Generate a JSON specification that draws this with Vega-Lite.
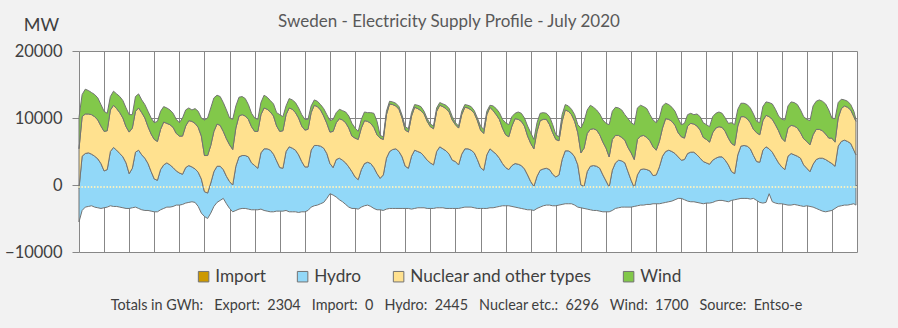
{
  "$schema": "https://vega.github.io/schema/vega-lite/v6.json",
  "width": 778,
  "height": 201,
  "autosize": {"type": "none"},
  "padding": {"left": 79, "top": 51, "right": 41, "bottom": 76},
  "background": "#f2f2f2",
  "title": {"text": "Sweden - Electricity Supply Profile - July 2020", "fontSize": 17, "font": "Lato", "color": "#595959", "fontWeight": "normal", "anchor": "middle", "dx": -19, "offset": -28, "baseline": "alphabetic"},
  "config": {"view": {"fill": "white", "stroke": null}},
  "data": {"values": [
{"hour":0,"export":-5500,"hydro":-500,"nuclear":5400,"wind":10100},
{"hour":3,"export":-3800,"hydro":4300,"nuclear":10200,"wind":13500},
{"hour":6,"export":-3300,"hydro":4700,"nuclear":10600,"wind":14300},
{"hour":9,"export":-3200,"hydro":4800,"nuclear":10600,"wind":14100},
{"hour":12,"export":-3100,"hydro":4600,"nuclear":10500,"wind":13800},
{"hour":15,"export":-3300,"hydro":4300,"nuclear":10200,"wind":13500},
{"hour":18,"export":-3400,"hydro":3900,"nuclear":9700,"wind":13000},
{"hour":21,"export":-3500,"hydro":3200,"nuclear":8800,"wind":12000},
{"hour":24,"export":-3400,"hydro":2100,"nuclear":8000,"wind":11000},
{"hour":27,"export":-3300,"hydro":2300,"nuclear":8100,"wind":10700},
{"hour":30,"export":-3100,"hydro":5000,"nuclear":11200,"wind":13200},
{"hour":33,"export":-3200,"hydro":5600,"nuclear":11900,"wind":14000},
{"hour":36,"export":-3200,"hydro":5200,"nuclear":11400,"wind":13600},
{"hour":39,"export":-3300,"hydro":4700,"nuclear":10800,"wind":13200},
{"hour":42,"export":-3400,"hydro":4200,"nuclear":10000,"wind":12600},
{"hour":45,"export":-3500,"hydro":3300,"nuclear":8700,"wind":11500},
{"hour":48,"export":-3500,"hydro":1700,"nuclear":7900,"wind":10500},
{"hour":51,"export":-3400,"hydro":2500,"nuclear":8500,"wind":10500},
{"hour":54,"export":-3300,"hydro":4900,"nuclear":11000,"wind":13200},
{"hour":57,"export":-3500,"hydro":5200,"nuclear":11500,"wind":13600},
{"hour":60,"export":-3700,"hydro":4500,"nuclear":10800,"wind":12700},
{"hour":63,"export":-3800,"hydro":4000,"nuclear":10000,"wind":12000},
{"hour":66,"export":-3800,"hydro":3200,"nuclear":8700,"wind":11000},
{"hour":69,"export":-3900,"hydro":2000,"nuclear":7600,"wind":10000},
{"hour":72,"export":-4000,"hydro":900,"nuclear":6800,"wind":9300},
{"hour":75,"export":-4000,"hydro":700,"nuclear":6500,"wind":9500},
{"hour":78,"export":-3700,"hydro":2300,"nuclear":8300,"wind":11000},
{"hour":81,"export":-3500,"hydro":3000,"nuclear":9400,"wind":11700},
{"hour":84,"export":-3300,"hydro":3300,"nuclear":9200,"wind":11500},
{"hour":87,"export":-3300,"hydro":3000,"nuclear":9000,"wind":11200},
{"hour":90,"export":-3200,"hydro":2600,"nuclear":8600,"wind":10700},
{"hour":93,"export":-3000,"hydro":2100,"nuclear":7700,"wind":9800},
{"hour":96,"export":-3000,"hydro":1800,"nuclear":7300,"wind":9300},
{"hour":99,"export":-2900,"hydro":1600,"nuclear":7300,"wind":10000},
{"hour":102,"export":-2700,"hydro":2600,"nuclear":8800,"wind":11200},
{"hour":105,"export":-2600,"hydro":2900,"nuclear":9600,"wind":11500},
{"hour":108,"export":-2500,"hydro":2700,"nuclear":9500,"wind":11200},
{"hour":111,"export":-2600,"hydro":2400,"nuclear":9200,"wind":11400},
{"hour":114,"export":-3200,"hydro":1900,"nuclear":8600,"wind":11000},
{"hour":117,"export":-4200,"hydro":900,"nuclear":7300,"wind":10000},
{"hour":120,"export":-4700,"hydro":-1000,"nuclear":4400,"wind":9700},
{"hour":123,"export":-5000,"hydro":-1200,"nuclear":4400,"wind":10000},
{"hour":126,"export":-4200,"hydro":300,"nuclear":5900,"wind":11500},
{"hour":129,"export":-3200,"hydro":2000,"nuclear":8000,"wind":13000},
{"hour":132,"export":-2600,"hydro":2800,"nuclear":9100,"wind":13400},
{"hour":135,"export":-2300,"hydro":2800,"nuclear":8900,"wind":13200},
{"hour":138,"export":-2000,"hydro":2300,"nuclear":8000,"wind":12300},
{"hour":141,"export":-2800,"hydro":1300,"nuclear":6900,"wind":11200},
{"hour":144,"export":-3500,"hydro":500,"nuclear":6000,"wind":10000},
{"hour":147,"export":-4000,"hydro":0,"nuclear":5300,"wind":9800},
{"hour":150,"export":-3800,"hydro":2800,"nuclear":8500,"wind":11800},
{"hour":153,"export":-3600,"hydro":4200,"nuclear":10300,"wind":13100},
{"hour":156,"export":-3500,"hydro":4400,"nuclear":10500,"wind":13200},
{"hour":159,"export":-3500,"hydro":4400,"nuclear":10300,"wind":12900},
{"hour":162,"export":-3600,"hydro":4200,"nuclear":9800,"wind":12000},
{"hour":165,"export":-3700,"hydro":3300,"nuclear":8700,"wind":10700},
{"hour":168,"export":-3700,"hydro":2900,"nuclear":8000,"wind":10000},
{"hour":171,"export":-3700,"hydro":2500,"nuclear":8000,"wind":9800},
{"hour":174,"export":-3600,"hydro":4800,"nuclear":10500,"wind":12300},
{"hour":177,"export":-3800,"hydro":5400,"nuclear":11500,"wind":13400},
{"hour":180,"export":-3900,"hydro":5400,"nuclear":11300,"wind":13100},
{"hour":183,"export":-4000,"hydro":5200,"nuclear":10900,"wind":12600},
{"hour":186,"export":-4000,"hydro":4600,"nuclear":10300,"wind":12100},
{"hour":189,"export":-3900,"hydro":3600,"nuclear":8800,"wind":10800},
{"hour":192,"export":-3900,"hydro":2600,"nuclear":8000,"wind":10500},
{"hour":195,"export":-3900,"hydro":2500,"nuclear":8100,"wind":10200},
{"hour":198,"export":-3800,"hydro":5000,"nuclear":10500,"wind":11800},
{"hour":201,"export":-4000,"hydro":5700,"nuclear":11500,"wind":12900},
{"hour":204,"export":-4000,"hydro":5500,"nuclear":11300,"wind":12700},
{"hour":207,"export":-4000,"hydro":5200,"nuclear":10800,"wind":12300},
{"hour":210,"export":-4100,"hydro":4500,"nuclear":10000,"wind":11500},
{"hour":213,"export":-4000,"hydro":3500,"nuclear":8800,"wind":10500},
{"hour":216,"export":-4000,"hydro":2700,"nuclear":8200,"wind":9800},
{"hour":219,"export":-3800,"hydro":2700,"nuclear":8300,"wind":9800},
{"hour":222,"export":-3300,"hydro":5200,"nuclear":10800,"wind":11800},
{"hour":225,"export":-3100,"hydro":5900,"nuclear":11900,"wind":12700},
{"hour":228,"export":-3000,"hydro":5900,"nuclear":11700,"wind":12500},
{"hour":231,"export":-2800,"hydro":5800,"nuclear":11200,"wind":12000},
{"hour":234,"export":-2600,"hydro":5500,"nuclear":10300,"wind":11400},
{"hour":237,"export":-2000,"hydro":4700,"nuclear":9200,"wind":10500},
{"hour":240,"export":-1300,"hydro":3200,"nuclear":7900,"wind":9600},
{"hour":243,"export":-1500,"hydro":2600,"nuclear":8000,"wind":9800},
{"hour":246,"export":-1800,"hydro":3800,"nuclear":9300,"wind":10800},
{"hour":249,"export":-2200,"hydro":4000,"nuclear":9900,"wind":11300},
{"hour":252,"export":-2500,"hydro":3700,"nuclear":9700,"wind":11100},
{"hour":255,"export":-2900,"hydro":3300,"nuclear":9300,"wind":10900},
{"hour":258,"export":-3300,"hydro":2700,"nuclear":8500,"wind":10300},
{"hour":261,"export":-3500,"hydro":2000,"nuclear":7300,"wind":9200},
{"hour":264,"export":-3500,"hydro":1200,"nuclear":7000,"wind":8500},
{"hour":267,"export":-3600,"hydro":800,"nuclear":6800,"wind":8000},
{"hour":270,"export":-3300,"hydro":2300,"nuclear":8500,"wind":9800},
{"hour":273,"export":-3100,"hydro":3200,"nuclear":9600,"wind":10900},
{"hour":276,"export":-3000,"hydro":3400,"nuclear":9500,"wind":10800},
{"hour":279,"export":-3200,"hydro":3200,"nuclear":9200,"wind":10800},
{"hour":282,"export":-3500,"hydro":2600,"nuclear":8600,"wind":10700},
{"hour":285,"export":-3700,"hydro":1700,"nuclear":7500,"wind":9500},
{"hour":288,"export":-3700,"hydro":1000,"nuclear":7000,"wind":7400},
{"hour":291,"export":-3800,"hydro":1500,"nuclear":6800,"wind":7200},
{"hour":294,"export":-3600,"hydro":4000,"nuclear":10500,"wind":11000},
{"hour":297,"export":-3500,"hydro":5000,"nuclear":12100,"wind":12500},
{"hour":300,"export":-3500,"hydro":5300,"nuclear":12000,"wind":12400},
{"hour":303,"export":-3500,"hydro":5400,"nuclear":11800,"wind":12200},
{"hour":306,"export":-3500,"hydro":5000,"nuclear":11300,"wind":11700},
{"hour":309,"export":-3500,"hydro":4200,"nuclear":10000,"wind":10400},
{"hour":312,"export":-3500,"hydro":2800,"nuclear":8200,"wind":8700},
{"hour":315,"export":-3500,"hydro":2500,"nuclear":7900,"wind":8400},
{"hour":318,"export":-3600,"hydro":4300,"nuclear":10300,"wind":10800},
{"hour":321,"export":-3500,"hydro":5200,"nuclear":11600,"wind":12000},
{"hour":324,"export":-3400,"hydro":5000,"nuclear":11400,"wind":11900},
{"hour":327,"export":-3400,"hydro":4800,"nuclear":11100,"wind":11700},
{"hour":330,"export":-3400,"hydro":4300,"nuclear":10600,"wind":11000},
{"hour":333,"export":-3500,"hydro":3700,"nuclear":9500,"wind":9900},
{"hour":336,"export":-3500,"hydro":3300,"nuclear":8700,"wind":9100},
{"hour":339,"export":-3500,"hydro":3000,"nuclear":8400,"wind":8800},
{"hour":342,"export":-3400,"hydro":5000,"nuclear":11000,"wind":11500},
{"hour":345,"export":-3400,"hydro":5700,"nuclear":11900,"wind":12300},
{"hour":348,"export":-3400,"hydro":5400,"nuclear":11700,"wind":12100},
{"hour":351,"export":-3500,"hydro":5100,"nuclear":11400,"wind":11900},
{"hour":354,"export":-3500,"hydro":4600,"nuclear":10900,"wind":11400},
{"hour":357,"export":-3500,"hydro":3700,"nuclear":9700,"wind":10200},
{"hour":360,"export":-3500,"hydro":3500,"nuclear":9000,"wind":9300},
{"hour":363,"export":-3500,"hydro":3000,"nuclear":8500,"wind":8800},
{"hour":366,"export":-3400,"hydro":4600,"nuclear":10500,"wind":11000},
{"hour":369,"export":-3300,"hydro":5400,"nuclear":11600,"wind":12000},
{"hour":372,"export":-3300,"hydro":5400,"nuclear":11500,"wind":11900},
{"hour":375,"export":-3300,"hydro":5200,"nuclear":11200,"wind":11700},
{"hour":378,"export":-3400,"hydro":4800,"nuclear":10700,"wind":11100},
{"hour":381,"export":-3500,"hydro":3800,"nuclear":9600,"wind":10000},
{"hour":384,"export":-3500,"hydro":2600,"nuclear":8200,"wind":8800},
{"hour":387,"export":-3500,"hydro":2200,"nuclear":7700,"wind":8300},
{"hour":390,"export":-3500,"hydro":4500,"nuclear":10500,"wind":11000},
{"hour":393,"export":-3400,"hydro":5400,"nuclear":11600,"wind":11900},
{"hour":396,"export":-3400,"hydro":5000,"nuclear":11100,"wind":11800},
{"hour":399,"export":-3300,"hydro":4600,"nuclear":10500,"wind":11400},
{"hour":402,"export":-3200,"hydro":4000,"nuclear":9800,"wind":10800},
{"hour":405,"export":-3100,"hydro":3200,"nuclear":8500,"wind":9800},
{"hour":408,"export":-3100,"hydro":2600,"nuclear":7500,"wind":9300},
{"hour":411,"export":-3100,"hydro":2300,"nuclear":7200,"wind":9000},
{"hour":414,"export":-3200,"hydro":2900,"nuclear":8800,"wind":10200},
{"hour":417,"export":-3300,"hydro":3200,"nuclear":9900,"wind":10700},
{"hour":420,"export":-3400,"hydro":3100,"nuclear":9800,"wind":10900},
{"hour":423,"export":-3500,"hydro":2900,"nuclear":9500,"wind":10700},
{"hour":426,"export":-3600,"hydro":2400,"nuclear":8800,"wind":10000},
{"hour":429,"export":-3700,"hydro":1500,"nuclear":7300,"wind":8800},
{"hour":432,"export":-3700,"hydro":500,"nuclear":6200,"wind":7800},
{"hour":435,"export":-3800,"hydro":-200,"nuclear":5400,"wind":6800},
{"hour":438,"export":-3500,"hydro":1300,"nuclear":8000,"wind":9300},
{"hour":441,"export":-3300,"hydro":2200,"nuclear":9600,"wind":10700},
{"hour":444,"export":-3100,"hydro":2400,"nuclear":9800,"wind":10800},
{"hour":447,"export":-3000,"hydro":2500,"nuclear":9800,"wind":10700},
{"hour":450,"export":-3000,"hydro":2300,"nuclear":9000,"wind":10200},
{"hour":453,"export":-3100,"hydro":1600,"nuclear":7800,"wind":9000},
{"hour":456,"export":-3100,"hydro":1200,"nuclear":6800,"wind":7500},
{"hour":459,"export":-3000,"hydro":1500,"nuclear":6600,"wind":7200},
{"hour":462,"export":-2900,"hydro":3800,"nuclear":9500,"wind":10500},
{"hour":465,"export":-2800,"hydro":5100,"nuclear":11200,"wind":12000},
{"hour":468,"export":-2800,"hydro":5100,"nuclear":11000,"wind":11800},
{"hour":471,"export":-2800,"hydro":4800,"nuclear":10500,"wind":11300},
{"hour":474,"export":-3000,"hydro":4200,"nuclear":9500,"wind":10500},
{"hour":477,"export":-3300,"hydro":3000,"nuclear":7800,"wind":9000},
{"hour":480,"export":-3400,"hydro":0,"nuclear":4800,"wind":8500},
{"hour":483,"export":-3500,"hydro":-200,"nuclear":5500,"wind":9500},
{"hour":486,"export":-3600,"hydro":2000,"nuclear":7700,"wind":11200},
{"hour":489,"export":-3700,"hydro":2800,"nuclear":8300,"wind":11900},
{"hour":492,"export":-3800,"hydro":2900,"nuclear":8400,"wind":11600},
{"hour":495,"export":-3800,"hydro":2800,"nuclear":8200,"wind":11200},
{"hour":498,"export":-3900,"hydro":2500,"nuclear":7500,"wind":10600},
{"hour":501,"export":-4000,"hydro":1500,"nuclear":6400,"wind":9700},
{"hour":504,"export":-4000,"hydro":600,"nuclear":5500,"wind":9200},
{"hour":507,"export":-4000,"hydro":-300,"nuclear":4200,"wind":9000},
{"hour":510,"export":-3800,"hydro":2200,"nuclear":6800,"wind":11000},
{"hour":513,"export":-3500,"hydro":3300,"nuclear":7400,"wind":11600},
{"hour":516,"export":-3400,"hydro":3700,"nuclear":7400,"wind":11500},
{"hour":519,"export":-3300,"hydro":3600,"nuclear":7100,"wind":11200},
{"hour":522,"export":-3300,"hydro":3300,"nuclear":6700,"wind":10500},
{"hour":525,"export":-3300,"hydro":2000,"nuclear":5600,"wind":9900},
{"hour":528,"export":-3300,"hydro":700,"nuclear":4800,"wind":9300},
{"hour":531,"export":-3200,"hydro":-400,"nuclear":3800,"wind":9000},
{"hour":534,"export":-3100,"hydro":1500,"nuclear":6800,"wind":11500},
{"hour":537,"export":-3000,"hydro":2300,"nuclear":7300,"wind":11900},
{"hour":540,"export":-3000,"hydro":2400,"nuclear":7400,"wind":11700},
{"hour":543,"export":-2900,"hydro":2300,"nuclear":7100,"wind":11400},
{"hour":546,"export":-2900,"hydro":2100,"nuclear":6600,"wind":10500},
{"hour":549,"export":-2800,"hydro":1400,"nuclear":5700,"wind":9700},
{"hour":552,"export":-2800,"hydro":1500,"nuclear":5200,"wind":9300},
{"hour":555,"export":-2800,"hydro":2700,"nuclear":6500,"wind":10000},
{"hour":558,"export":-2700,"hydro":4300,"nuclear":8500,"wind":11800},
{"hour":561,"export":-2600,"hydro":5000,"nuclear":9900,"wind":12200},
{"hour":564,"export":-2500,"hydro":5200,"nuclear":9800,"wind":12000},
{"hour":567,"export":-2400,"hydro":5000,"nuclear":9500,"wind":11600},
{"hour":570,"export":-2200,"hydro":4700,"nuclear":8900,"wind":11000},
{"hour":573,"export":-2000,"hydro":4200,"nuclear":7800,"wind":9900},
{"hour":576,"export":-2000,"hydro":3700,"nuclear":7200,"wind":9000},
{"hour":579,"export":-2200,"hydro":3800,"nuclear":7000,"wind":9200},
{"hour":582,"export":-2400,"hydro":4700,"nuclear":8800,"wind":10500},
{"hour":585,"export":-2500,"hydro":4900,"nuclear":9200,"wind":10700},
{"hour":588,"export":-2500,"hydro":4900,"nuclear":9100,"wind":10500},
{"hour":591,"export":-2600,"hydro":4500,"nuclear":8800,"wind":10600},
{"hour":594,"export":-2700,"hydro":4000,"nuclear":8200,"wind":10200},
{"hour":597,"export":-2800,"hydro":3500,"nuclear":7100,"wind":9300},
{"hour":600,"export":-2700,"hydro":3300,"nuclear":6800,"wind":9000},
{"hour":603,"export":-2700,"hydro":3100,"nuclear":6400,"wind":8700},
{"hour":606,"export":-2600,"hydro":3700,"nuclear":7800,"wind":10200},
{"hour":609,"export":-2400,"hydro":4000,"nuclear":8500,"wind":10700},
{"hour":612,"export":-2300,"hydro":4200,"nuclear":8700,"wind":10900},
{"hour":615,"export":-2300,"hydro":4200,"nuclear":8600,"wind":10700},
{"hour":618,"export":-2400,"hydro":3700,"nuclear":8000,"wind":10000},
{"hour":621,"export":-2500,"hydro":3000,"nuclear":7000,"wind":9200},
{"hour":624,"export":-2300,"hydro":2000,"nuclear":6200,"wind":9300},
{"hour":627,"export":-2200,"hydro":1700,"nuclear":5900,"wind":9000},
{"hour":630,"export":-2100,"hydro":4500,"nuclear":8800,"wind":11300},
{"hour":633,"export":-2000,"hydro":5800,"nuclear":10200,"wind":12200},
{"hour":636,"export":-2000,"hydro":5900,"nuclear":10200,"wind":12200},
{"hour":639,"export":-2000,"hydro":5800,"nuclear":9900,"wind":12000},
{"hour":642,"export":-2100,"hydro":5400,"nuclear":9300,"wind":11500},
{"hour":645,"export":-2000,"hydro":4400,"nuclear":8300,"wind":10600},
{"hour":648,"export":-2300,"hydro":3500,"nuclear":7800,"wind":9500},
{"hour":651,"export":-2600,"hydro":3400,"nuclear":7500,"wind":9300},
{"hour":654,"export":-2700,"hydro":5200,"nuclear":9600,"wind":11700},
{"hour":657,"export":-2600,"hydro":5700,"nuclear":10400,"wind":12400},
{"hour":660,"export":-1300,"hydro":5400,"nuclear":10200,"wind":12300},
{"hour":663,"export":-2500,"hydro":4900,"nuclear":9800,"wind":12100},
{"hour":666,"export":-2700,"hydro":4100,"nuclear":9000,"wind":11300},
{"hour":669,"export":-2800,"hydro":3300,"nuclear":8100,"wind":10300},
{"hour":672,"export":-2800,"hydro":2700,"nuclear":7000,"wind":9800},
{"hour":675,"export":-2900,"hydro":2300,"nuclear":6500,"wind":9700},
{"hour":678,"export":-3000,"hydro":4300,"nuclear":8500,"wind":11800},
{"hour":681,"export":-3000,"hydro":4700,"nuclear":8900,"wind":12400},
{"hour":684,"export":-2900,"hydro":4500,"nuclear":8800,"wind":12300},
{"hour":687,"export":-3000,"hydro":4300,"nuclear":8500,"wind":12000},
{"hour":690,"export":-3100,"hydro":4000,"nuclear":7800,"wind":11200},
{"hour":693,"export":-3200,"hydro":3000,"nuclear":6900,"wind":10200},
{"hour":696,"export":-3100,"hydro":2500,"nuclear":6500,"wind":9800},
{"hour":699,"export":-3200,"hydro":2000,"nuclear":6000,"wind":9600},
{"hour":702,"export":-3300,"hydro":3100,"nuclear":7500,"wind":11800},
{"hour":705,"export":-3500,"hydro":3800,"nuclear":8300,"wind":12500},
{"hour":708,"export":-3700,"hydro":4000,"nuclear":8300,"wind":12700},
{"hour":711,"export":-3900,"hydro":4000,"nuclear":8100,"wind":12500},
{"hour":714,"export":-4000,"hydro":3800,"nuclear":7600,"wind":12100},
{"hour":717,"export":-3900,"hydro":3500,"nuclear":7000,"wind":11200},
{"hour":720,"export":-3800,"hydro":3200,"nuclear":7000,"wind":10000},
{"hour":723,"export":-3500,"hydro":2800,"nuclear":6400,"wind":9900},
{"hour":726,"export":-3200,"hydro":5800,"nuclear":10000,"wind":12300},
{"hour":729,"export":-3100,"hydro":6500,"nuclear":11400,"wind":12800},
{"hour":732,"export":-3000,"hydro":6700,"nuclear":11800,"wind":12700},
{"hour":735,"export":-3000,"hydro":6500,"nuclear":11600,"wind":12500},
{"hour":738,"export":-2900,"hydro":6200,"nuclear":11200,"wind":12000},
{"hour":741,"export":-2800,"hydro":5200,"nuclear":10200,"wind":11000},
{"hour":743,"export":-3000,"hydro":4500,"nuclear":9500,"wind":9800}
  ]},
  "encoding": {
    "x": {"field": "hour", "type": "quantitative",
      "scale": {"domain": [0, 744], "nice": false, "zero": false},
      "axis": {"values": [0,24,48,72,96,120,144,168,192,216,240,264,288,312,336,360,384,408,432,456,480,504,528,552,576,600,624,648,672,696,720,744],
        "grid": true, "gridColor": "#878787", "gridWidth": 1, "labels": false, "ticks": false, "domain": false,
        "title": "Totals in GWh:\u00a0\u00a0\u00a0Export:\u00a0\u00a02304\u00a0\u00a0\u00a0Import:\u00a0\u00a00\u00a0\u00a0\u00a0Hydro:\u00a0\u00a02445\u00a0\u00a0\u00a0Nuclear etc.:\u00a0\u00a06296\u00a0\u00a0\u00a0Wind:\u00a0\u00a01700\u00a0\u00a0\u00a0Source:\u00a0\u00a0Entso-e",
        "titleFont": "Lato", "titleFontSize": 14.4, "titleFontWeight": "normal", "titleColor": "#404040",
        "titleX": 377, "titleY": 53, "titleAlign": "center", "titleBaseline": "middle"}}
  },
  "layer": [
    {
      "mark": {"type": "area", "stroke": "#737373", "strokeWidth": 1, "opacity": 1},
      "encoding": {
        "y": {"field": "export", "type": "quantitative", "scale": {"domain": [-10000, 20000], "nice": false},
          "axis": {"values": [-10000,-5000,0,5000,10000,15000,20000], "format": "d", "grid": true, "gridColor": "#878787", "tickColor": "#878787", "tickSize": 7, "domain": false,
            "labelFont": "Lato", "labelFontSize": 16.5, "labelColor": "#404040", "labelPadding": 10,
            "title": "MW", "titleAngle": 0, "titleX": -38, "titleY": -26, "titleAlign": "center", "titleBaseline": "middle",
            "titleFont": "Lato", "titleFontSize": 18, "titleFontWeight": "normal", "titleColor": "#404040"}},
        "y2": {"field": "hydro"},
        "color": {"datum": "Hydro", "type": "nominal",
          "scale": {"domain": ["Import", "Hydro", "Nuclear and other types", "Wind"], "range": ["#cc9900", "#92d8f8", "#ffe18f", "#82c84a"]},
          "legend": {"orient": "none", "legendX": 116, "legendY": 217, "direction": "horizontal", "columns": 4, "title": null,
            "symbolType": "square", "symbolSize": 110, "symbolStrokeColor": "#808080", "symbolStrokeWidth": 1, "symbolOpacity": 1,
            "labelFont": "Lato", "labelFontSize": 17.2, "labelColor": "#404040", "labelOffset": 3, "labelLimit": 0, "columnPadding": 28, "padding": 0}}
      }
    },
    {
      "mark": {"type": "area", "stroke": "#737373", "strokeWidth": 1, "opacity": 1},
      "encoding": {
        "y": {"field": "hydro", "type": "quantitative"},
        "y2": {"field": "nuclear"},
        "color": {"datum": "Nuclear and other types", "type": "nominal"}
      }
    },
    {
      "mark": {"type": "area", "stroke": "#737373", "strokeWidth": 1, "opacity": 1},
      "encoding": {
        "y": {"field": "nuclear", "type": "quantitative"},
        "y2": {"field": "wind"},
        "color": {"datum": "Wind", "type": "nominal"}
      }
    },
    {
      "mark": {"type": "rule", "color": "#7f7f7f", "strokeWidth": 1},
      "encoding": {"y": {"datum": 0, "type": "quantitative"}}
    },
    {
      "mark": {"type": "rule", "color": "#f4f1c4", "strokeWidth": 1.5, "strokeDash": [2, 3]},
      "encoding": {"y": {"datum": -450, "type": "quantitative"}}
    }
  ]
}
